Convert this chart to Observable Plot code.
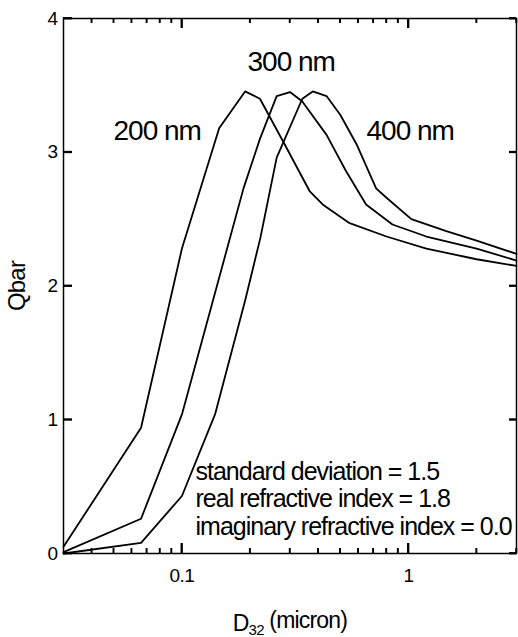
<!DOCTYPE html>
<html><head><meta charset="utf-8">
<script src="https://cdn.jsdelivr.net/npm/d3@7"></script>
<script src="https://cdn.jsdelivr.net/npm/@observablehq/plot@0.6"></script>
<style>
html,body{margin:0;padding:0;background:#fff;}
#chart svg{display:block;font-family:"Liberation Sans",Arial,sans-serif;}
.curvelab text{letter-spacing:-1px;}
.note text{letter-spacing:-1px;}
.ticklab text{letter-spacing:-0.5px;}
.axlab text{letter-spacing:-0.8px;}
</style>
</head><body><div id="chart"></div>
<script>
// --- data ---
const x200 = [0.03, 0.066, 0.1, 0.146, 0.19, 0.221, 0.284, 0.366, 0.418, 0.55, 0.8, 1.2, 2.0, 3.0];
const y200 = [0.05, 0.94, 2.28, 3.18, 3.455, 3.40, 3.06, 2.71, 2.61, 2.47, 2.37, 2.28, 2.20, 2.15];
const x300 = [0.03, 0.066, 0.1, 0.187, 0.221, 0.262, 0.30, 0.34, 0.435, 0.53, 0.65, 0.85, 1.2, 2.0, 3.0];
const y300 = [0.01, 0.26, 1.04, 2.73, 3.10, 3.42, 3.45, 3.38, 3.13, 2.86, 2.61, 2.46, 2.37, 2.28, 2.19];
const x400 = [0.03, 0.066, 0.1, 0.14, 0.19, 0.222, 0.262, 0.34, 0.378, 0.435, 0.50, 0.59, 0.72, 0.80, 1.03, 1.47, 2.0, 3.0];
const y400 = [0.0, 0.08, 0.43, 1.04, 1.89, 2.36, 2.96, 3.40, 3.455, 3.42, 3.28, 3.06, 2.73, 2.66, 2.50, 2.41, 2.34, 2.24];

const seriesNames = ["200 nm", "300 nm", "400 nm"];
const curveLabelX = [0.0499, 0.1948, 0.653];
const curveLabelY = [3.088, 3.611, 3.088];

const noteLines = ["standard deviation = 1.5", "real refractive index = 1.8", "imaginary refractive index = 0.0"];
const noteX = [0.1148, 0.1148, 0.1148];
const noteY = [0.553, 0.344, 0.135];

const yTicks = [0, 1, 2, 3, 4];
const xMajor = [0.1, 1];
const xMinor = [0.04, 0.05, 0.06, 0.07, 0.08, 0.09, 0.2, 0.3, 0.4, 0.5, 0.6, 0.7, 0.8, 0.9, 2, 3];
const yTitle = "Qbar";
const xTitle = "D32 (micron)";

// --- build tables ---
const xs = [x200, x300, x400], ys = [y200, y300, y400];
const curves = seriesNames.flatMap((s, i) => xs[i].map((x, j) => ({series: s, x, y: ys[i][j]})));
const curveLabels = seriesNames.map((s, i) => ({text: s, x: curveLabelX[i], y: curveLabelY[i]}));
const notes = noteLines.map((t, i) => ({text: t, x: noteX[i], y: noteY[i]}));

// layout
const W = 518, H = 637, mL = 63, mR = 2, mT = 18, mB = 84;
const fw = W - mL - mR, fh = H - mT - mB;

const svg = Plot.plot({
  width: W,
  height: H,
  marginLeft: mL,
  marginRight: mR,
  marginTop: mT,
  marginBottom: mB,
  style: {background: "#fff", color: "#000", fontFamily: "'Liberation Sans', Arial, sans-serif"},
  x: {type: "log", domain: [0.03, 3]},
  y: {domain: [0, 4]},
  marks: [
    Plot.frame({stroke: "#000", strokeWidth: 1.5}),
    // tick labels
    Plot.axisY(yTicks, {anchor: "left", tickSize: 0, tickPadding: 6, fontSize: 19, tickFormat: d => String(d), label: null, className: "ticklab"}),
    Plot.axisX(xMajor, {anchor: "bottom", tickSize: 0, tickPadding: 15, fontSize: 19, tickFormat: d => String(d), label: null, className: "ticklab"}),
    // curves
    Plot.line(curves, {x: "x", y: "y", z: "series", stroke: "#000", strokeWidth: 1.8}),
    // curve labels
    Plot.text(curveLabels, {x: "x", y: "y", text: "text", textAnchor: "start", lineAnchor: "bottom", fontSize: 28, fill: "#000", className: "curvelab"}),
    // annotation
    Plot.text(notes, {x: "x", y: "y", text: "text", textAnchor: "start", lineAnchor: "bottom", fontSize: 25, fill: "#000", className: "note"}),
    // axis titles
    Plot.text([yTitle], {frameAnchor: "left", dx: -46, rotate: -90, textAnchor: "middle", fontSize: 24, fill: "#000", className: "axlab"}),
    Plot.text([xTitle], {frameAnchor: "bottom", dy: 77, fontSize: 23, fill: "#000", className: "xtitle"}),
    // inward ticks (tick marks inset to a short length), drawn last
    Plot.tickY(yTicks, {y: d => d, insetRight: fw - 9, stroke: "#000", strokeWidth: 1.8}),
    Plot.tickY(yTicks, {y: d => d, insetLeft: fw - 7, stroke: "#000", strokeWidth: 1.8}),
    Plot.tickX(xMajor, {x: d => d, insetTop: fh - 10, stroke: "#000", strokeWidth: 1.8}),
    Plot.tickX(xMinor, {x: d => d, insetTop: fh - 5, stroke: "#000", strokeWidth: 1.4}),
    Plot.tickX(xMajor, {x: d => d, insetBottom: fh - 10, stroke: "#000", strokeWidth: 1.8}),
    Plot.tickX(xMinor, {x: d => d, insetBottom: fh - 5, stroke: "#000", strokeWidth: 1.4})
  ]
});
document.getElementById("chart").appendChild(svg);

// extra inward ticks placed through Plot's own scales (ensures visibility)
const sx = svg.scale("x"), sy = svg.scale("y");
const g = d3.select(svg).append("g").attr("stroke", "#000").attr("fill", "none");
const x0 = mL, x1 = W - mR, y0 = H - mB, y1 = mT;
yTicks.forEach(v => {
  const py = sy.apply(v);
  g.append("line").attr("x1", x0).attr("x2", x0 + 9).attr("y1", py).attr("y2", py).attr("stroke-width", 1.8);
  g.append("line").attr("x1", x1).attr("x2", x1 - 7).attr("y1", py).attr("y2", py).attr("stroke-width", 1.8);
});
[[xMajor, 10, 1.8], [xMinor, 5, 1.4]].forEach(([vals, len, w]) => vals.forEach(v => {
  const px = sx.apply(v);
  g.append("line").attr("x1", px).attr("x2", px).attr("y1", y0).attr("y2", y0 - len).attr("stroke-width", w);
  g.append("line").attr("x1", px).attr("x2", px).attr("y1", y1).attr("y2", y1 + len).attr("stroke-width", w);
}));

// subscript for D32
d3.select(svg).selectAll(".xtitle text").each(function() {
  const t = d3.select(this);
  const s = t.text();
  const m = s.match(/^(D)(\d+)(.*)$/);
  if (!m) return;
  t.text(null).style("letter-spacing", "-0.8px");
  t.append("tspan").text(m[1]);
  t.append("tspan").attr("dy", "0.3em").attr("font-size", "15px").text(m[2]);
  t.append("tspan").attr("dy", "-0.3em").text(m[3]);
});
</script>
</body></html>
